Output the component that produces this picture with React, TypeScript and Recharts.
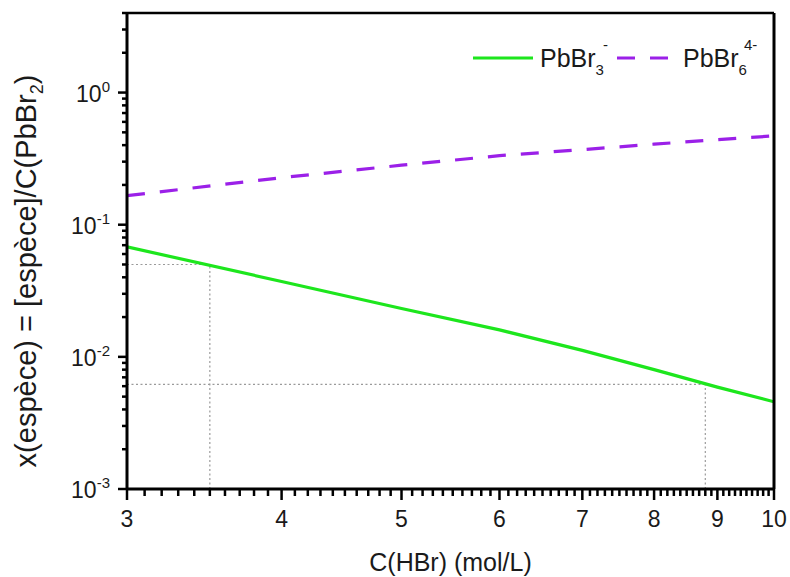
import React from 'react';
import { LineChart, Line, XAxis, YAxis, ReferenceLine, Legend } from 'recharts';

// C(HBr) en mol/L
const hbr = [3, 4, 5, 6, 7, 8, 9, 10];
// fractions
const pbbr3 = [0.068, 0.0372, 0.0232, 0.016, 0.0112, 0.008, 0.0059, 0.00457];
const pbbr6 = [0.166, 0.227, 0.282, 0.333, 0.37, 0.407, 0.44, 0.47];

const series = [
  { key: 'pbbr3', nom: 'PbBr', sub: '3', sup: '-', color: '#1de61d', dash: undefined as string | undefined },
  { key: 'pbbr6', nom: 'PbBr', sub: '6', sup: '4-', color: '#9b20e8', dash: '18 15' },
];

// lignes de repère pointillées
const repereX = [3.5, 8.8];
const repereY = [0.05, 0.0062];

const X_DOMAIN = [3, 10];
const Y_DOMAIN = [0.001, 4];
const decades = [0.001, 0.01, 0.1, 1];

const data = hbr.map((c, i) => ({ c, pbbr3: pbbr3[i], pbbr6: pbbr6[i] }));

// graduations (majeures + mineures)
const xTicks: number[] = [];
for (let i = 30; i <= 100; i++) xTicks.push(i / 10);
const yTicks: number[] = [];
decades.forEach((d) => {
  for (let k = 1; k <= 9; k++) {
    const v = +(d * k).toPrecision(3);
    if (v <= Y_DOMAIN[1]) yTicks.push(v);
  }
});

const FONT = '"Liberation Sans", Arial, sans-serif';

const XTick = (props: any) => {
  const { x, y, payload } = props;
  const v = payload.value;
  const major = Math.abs(v - Math.round(v)) < 1e-6;
  return (
    <g>
      <line x1={x} x2={x} y1={y} y2={y + (major ? 11 : 7)} stroke="#000" strokeWidth={2.5} />
      {major && (
        <text x={x} y={y + 38} textAnchor="middle" fontSize={23} fill="#1a1a1a" fontFamily={FONT}>
          {Math.round(v)}
        </text>
      )}
    </g>
  );
};

const YTick = (props: any) => {
  const { x, y, payload } = props;
  const e = Math.log10(payload.value);
  const major = Math.abs(e - Math.round(e)) < 1e-6;
  return (
    <g>
      <line x1={x} x2={x - (major ? 9 : 5)} y1={y} y2={y} stroke="#000" strokeWidth={2.5} />
      {major && (
        <text x={x - 17} y={y + 9} textAnchor="end" fontSize={23} fill="#1a1a1a" fontFamily={FONT}>
          10
          <tspan dy={-10} fontSize={15}>{Math.round(e)}</tspan>
        </text>
      )}
    </g>
  );
};

const YTitle = (props: any) => {
  const vb = props.viewBox;
  const cx = 36;
  const cy = vb.y + vb.height / 2 + 20;
  return (
    <text x={cx} y={cy} transform={`rotate(-90 ${cx} ${cy})`} textAnchor="middle" fontSize={29} fill="#1a1a1a" fontFamily={FONT}>
      x(espèce) = [espèce]/C(PbBr
      <tspan dy={7} fontSize={18}>2</tspan>
      <tspan dy={-7}>)</tspan>
    </text>
  );
};

const XTitle = (props: any) => {
  const vb = props.viewBox;
  return (
    <text x={vb.x + vb.width / 2} y={571} textAnchor="middle" fontSize={25} fill="#1a1a1a" fontFamily={FONT}>
      C(HBr) (mol/L)
    </text>
  );
};

const LegendBox = () => {
  const pos = [
    { x1: 473, x2: 533, tx: 540, dx: -1 },
    { x1: 617, x2: 668, tx: 683, dx: -3 },
  ];
  return (
    <svg width={790} height={100}>
      {series.map((s, i) => (
        <g key={s.key}>
          <line x1={pos[i].x1} x2={pos[i].x2} y1={58} y2={58} stroke={s.color} strokeWidth={3.2} strokeDasharray={s.dash} />
          <text x={pos[i].tx} y={67} fontSize={25} fill="#1a1a1a" fontFamily={FONT}>
            {s.nom}
            <tspan dy={8} fontSize={15}>{s.sub}</tspan>
            <tspan dx={pos[i].dx} dy={-25} fontSize={15}>{s.sup}</tspan>
          </text>
        </g>
      ))}
    </svg>
  );
};

export default function App() {
  return (
    <div style={{ position: 'absolute', left: 0, top: 0, width: 790, height: 577, background: '#fff', fontFamily: FONT }}>
      <LineChart width={790} height={577} data={data} margin={{ top: 13, right: 16, bottom: 0, left: 0 }}>
        <XAxis
          dataKey="c"
          type="number"
          scale="log"
          domain={X_DOMAIN}
          ticks={xTicks}
          interval={0}
          height={88}
          tickSize={0}
          tickMargin={0}
          tick={<XTick />}
          axisLine={{ stroke: '#000', strokeWidth: 3 }}
          allowDataOverflow
          label={<XTitle />}
        />
        <YAxis
          type="number"
          scale="log"
          domain={Y_DOMAIN}
          ticks={yTicks}
          interval={0}
          width={127}
          tickSize={0}
          tickMargin={0}
          tick={<YTick />}
          axisLine={{ stroke: '#000', strokeWidth: 3 }}
          allowDataOverflow
          label={<YTitle />}
        />
        {repereX.map((rx, i) => (
          <ReferenceLine key={`h${i}`} segment={[{ x: X_DOMAIN[0], y: repereY[i] }, { x: rx, y: repereY[i] }]} stroke="#9a9a9a" strokeWidth={1.2} strokeDasharray="2 2.5" />
        ))}
        {repereX.map((rx, i) => (
          <ReferenceLine key={`v${i}`} segment={[{ x: rx, y: Y_DOMAIN[0] }, { x: rx, y: repereY[i] }]} stroke="#9a9a9a" strokeWidth={1.2} strokeDasharray="2 2.5" />
        ))}
        {series.map((s) => (
          <Line key={s.key} dataKey={s.key} type="linear" stroke={s.color} strokeWidth={3.2} strokeDasharray={s.dash} dot={false} isAnimationActive={false} />
        ))}
        {/* cadre haut et droit */}
        <ReferenceLine segment={[{ x: X_DOMAIN[0], y: Y_DOMAIN[1] }, { x: X_DOMAIN[1], y: Y_DOMAIN[1] }]} stroke="#000" strokeWidth={2.5} ifOverflow="visible" />
        <ReferenceLine segment={[{ x: X_DOMAIN[1], y: Y_DOMAIN[0] }, { x: X_DOMAIN[1], y: Y_DOMAIN[1] }]} stroke="#000" strokeWidth={3} ifOverflow="visible" />
        <Legend
          layout="horizontal"
          verticalAlign="middle"
          align="center"
          content={<LegendBox />}
          wrapperStyle={{ position: 'absolute', left: 0, top: 0, width: 790, height: 100 }}
        />
      </LineChart>
    </div>
  );
}
